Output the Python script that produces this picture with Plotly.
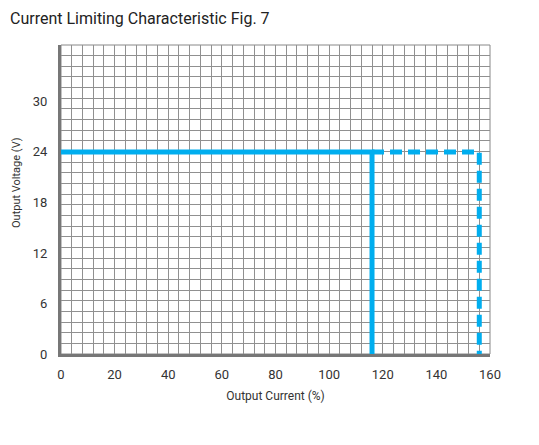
import plotly.graph_objects as go

# Data
solid_x = [0, 116, 116]
solid_y = [24, 24, 0]
dash_x = [116, 156, 156]
dash_y = [24, 24, 0]
x_ticks = [0, 20, 40, 60, 80, 100, 120, 140, 160]
y_ticks = [0, 6, 12, 18, 24, 30]

FONT = "Roboto, Liberation Sans Narrow, sans-serif"
BLUE = "#00aeef"
GRID = "#909090"

Y_MAX = 36.7
Y_CELLS = 29

fig = go.Figure()
fig.add_trace(go.Scatter(x=solid_x, y=solid_y, mode="lines",
                         line=dict(color=BLUE, width=5), showlegend=False, hoverinfo="skip"))
fig.add_trace(go.Scatter(x=dash_x, y=dash_y, mode="lines",
                         line=dict(color=BLUE, width=5, dash="12px,6px"), showlegend=False, hoverinfo="skip"))

W, H = 531, 437
L, R, T, B = 53, 49, 37, 91
PW = W - L - R
PH = H - T - B

fig.update_layout(
    width=W, height=H,
    margin=dict(l=L, r=R, t=T, b=B),
    paper_bgcolor="white", plot_bgcolor="white",
    font=dict(family=FONT, size=13, color="#333"),
    xaxis=dict(range=[0, 160], tickvals=x_ticks, ticks="", showgrid=False,
               minor=dict(dtick=4, tick0=0, showgrid=True, gridcolor=GRID, gridwidth=1),
               showline=True, linecolor="#777", linewidth=3, zeroline=False,
               ticklabelstandoff=6,
               title=dict(text="Output Current (%)", font=dict(family=FONT, size=12, color="#333"), standoff=12),
               tickfont=dict(family=FONT, size=13, color="#333")),
    yaxis=dict(range=[0, Y_MAX], tickvals=y_ticks, ticks="", showgrid=False,
               minor=dict(dtick=Y_MAX / Y_CELLS, tick0=0, showgrid=True, gridcolor=GRID, gridwidth=1),
               showline=True, linecolor="#777", linewidth=3, zeroline=False,
               ticklabelstandoff=8,
               tickfont=dict(family=FONT, size=13, color="#333")),
    shapes=[dict(type="rect", xref="paper", yref="paper", x0=0, x1=1, y0=0, y1=1,
                 line=dict(color="#888", width=1), layer="below")],
    annotations=[
        dict(text="Output Voltage (V)", xref="paper", yref="paper",
             x=(8 - L) / PW, y=1 - (183 - 8 - T) / PH, xanchor="center", yanchor="middle", textangle=-90,
             showarrow=False, font=dict(family=FONT, size=11, color="#333")),
        dict(text="Current Limiting Characteristic Fig. 7", xref="paper", yref="paper",
             x=(0 - L) / PW, y=1 + (T - 10) / PH, xanchor="left", yanchor="middle",
             showarrow=False, font=dict(family=FONT, size=16, color="#222")),
    ],
)

fig.write_html("out.html")
